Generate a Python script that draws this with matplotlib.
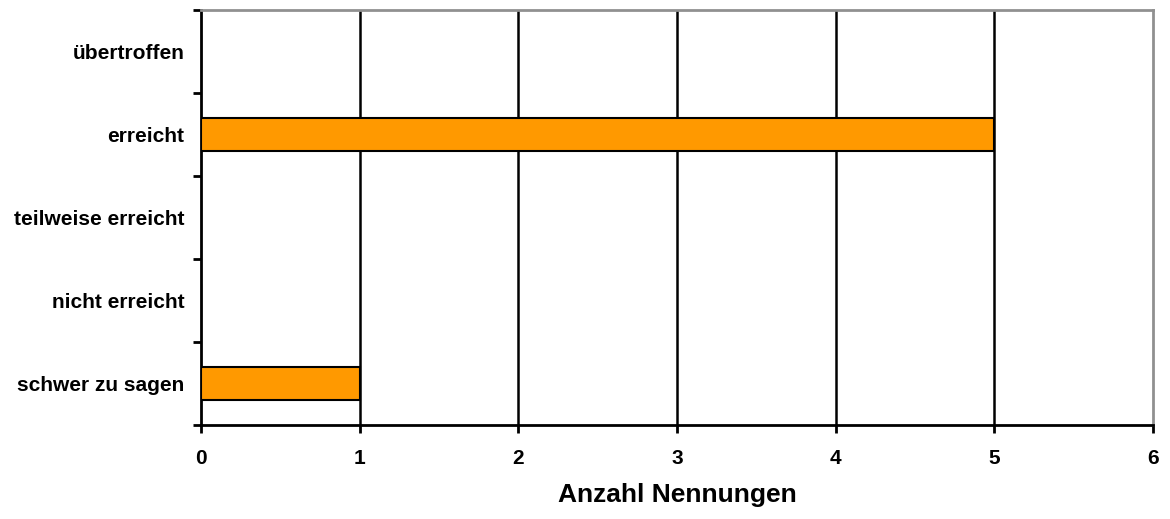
import numpy as np
import matplotlib.pyplot as plt

categories = ["übertroffen", "erreicht", "teilweise erreicht", "nicht erreicht", "schwer zu sagen"]
values = [0, 5, 0, 0, 1]
xticks = [0, 1, 2, 3, 4, 5, 6]

plt.rcParams['font.family'] = ['Liberation Sans', 'DejaVu Sans']
plt.rcParams['font.weight'] = 'bold'

fig = plt.figure(figsize=(11.7, 5.19), dpi=100)
ax = fig.add_axes([0.1718, 0.181, 0.8137, 0.7997])

y = np.arange(len(categories))[::-1]
ax.barh(y, values, height=0.4, color='#FF9900', edgecolor='black', linewidth=1.5, zorder=3)

ax.set_xlim(0, 6)
ax.set_ylim(-0.5, len(categories) - 0.5)
ax.set_xticks(xticks)
ax.set_xticklabels([str(t) for t in xticks], fontsize=15, fontweight='bold')
ax.tick_params(axis='x', length=6, width=2, pad=11, direction='out')

ax.set_yticks(y)
ax.set_yticklabels(categories, fontsize=15, fontweight='bold')
ax.set_yticks(np.arange(-0.5, len(categories)), minor=True)
ax.tick_params(axis='y', which='major', length=0, pad=12)
ax.tick_params(axis='y', which='minor', length=6, width=2, direction='out')

for xv in xticks[1:-1]:
    ax.axvline(xv, color='black', linewidth=1.8, zorder=1)

ax.spines['left'].set_linewidth(2)
ax.spines['bottom'].set_linewidth(2)
ax.spines['top'].set_color('#909090')
ax.spines['top'].set_linewidth(2)
ax.spines['right'].set_color('#909090')
ax.spines['right'].set_linewidth(2)

ax.set_xlabel("Anzahl Nennungen", fontsize=19, fontweight='bold', labelpad=11)

fig.savefig("out.png", dpi=100)
